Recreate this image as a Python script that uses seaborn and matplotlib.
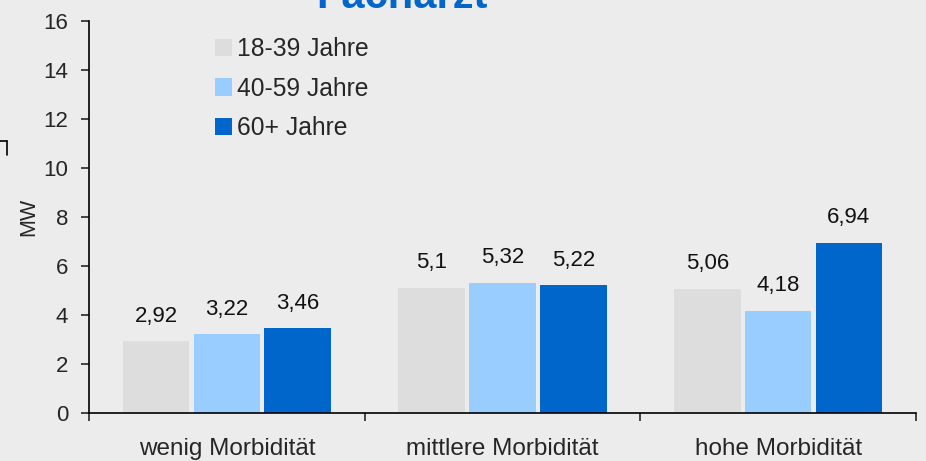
import matplotlib
matplotlib.use("Agg")
import matplotlib.pyplot as plt
import seaborn as sns
import pandas as pd
from matplotlib.lines import Line2D

categories = ["wenig Morbidität", "mittlere Morbidität", "hohe Morbidität"]
groups = ["18-39 Jahre", "40-59 Jahre", "60+ Jahre"]
v_18_39 = [2.92, 5.1, 5.06]
v_40_59 = [3.22, 5.32, 4.18]
v_60 = [3.46, 5.22, 6.94]
yticks = [0, 2, 4, 6, 8, 10, 12, 14, 16]
title = "Facharzt"
ylabel = "MW"

colors = ["#dddddd", "#99ccff", "#0066cc"]
bg = "#ececec"

rows = []
for g, vals in zip(groups, [v_18_39, v_40_59, v_60]):
    for c, v in zip(categories, vals):
        rows.append({"cat": c, "grp": g, "val": v})
df = pd.DataFrame(rows)

sns.set_style("ticks")
plt.rcParams["font.family"] = ["Liberation Sans", "DejaVu Sans"]

fig = plt.figure(figsize=(9.26, 4.61), dpi=100, facecolor=bg)
ax = fig.add_axes([89/926, 1-413/461, (916-89)/926, (413-21)/461])
ax.set_facecolor(bg)

sns.barplot(data=df, x="cat", y="val", hue="grp", order=categories, hue_order=groups,
            palette=colors, width=0.77, gap=0.06, ax=ax, errorbar=None,
            saturation=1, edgecolor="none", linewidth=0)

for cont in ax.containers:
    labels = [("%g" % b.get_height()).replace(".", ",") for b in cont]
    ax.bar_label(cont, labels=labels, padding=10.5, fontsize=16, color="#111111")

ax.set_ylim(0, 16)
ax.set_yticks(yticks)
ax.set_yticklabels([str(t) for t in yticks], fontsize=16)
ax.set_xlim(-0.5, 2.5)
ax.set_xticks([-0.5, 0.5, 1.5, 2.5])
ax.set_xticklabels([])
ax.set_xticks([0, 1, 2], minor=True)
ax.set_xticklabels(categories, minor=True, fontsize=17.5)
ax.tick_params(axis="x", which="minor", length=0, pad=18)
ax.tick_params(axis="x", which="major", length=6, width=1.2, direction="out")
ax.tick_params(axis="y", length=6, width=1.2, direction="out", pad=9)
ax.set_xlabel("")
ax.set_ylabel(ylabel, fontsize=15.5, labelpad=3)
for s in ["top", "right"]:
    ax.spines[s].set_visible(False)
for s in ["left", "bottom"]:
    ax.spines[s].set_linewidth(1.2)
    ax.spines[s].set_color("black")

leg = ax.legend(loc="upper left", bbox_to_anchor=(0.1525, 0.958), frameon=False,
                fontsize=17.7, handlelength=0.7, handleheight=0.7,
                handletextpad=0.2, labelspacing=0.62, borderaxespad=0, borderpad=0)

fig.text(402/926, 1-8/461, title, ha="center", va="baseline", fontsize=30,
         fontweight="bold", color="#0066cc")

fig.add_artist(Line2D([0/926, 7/926], [1-141/461, 1-141/461], color="black", lw=1.2))
fig.add_artist(Line2D([7/926, 7/926], [1-141/461, 1-155/461], color="black", lw=1.2))

fig.savefig("out.png", dpi=100, facecolor=bg)
